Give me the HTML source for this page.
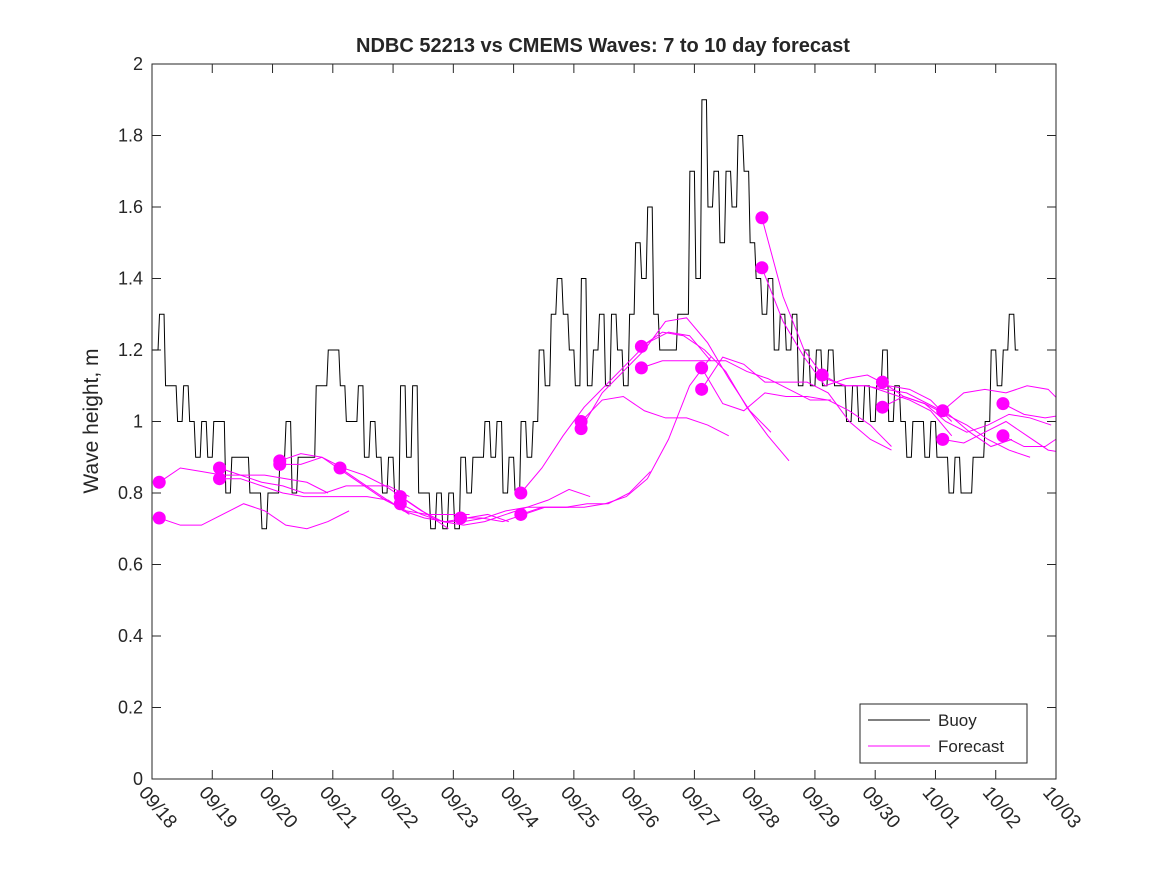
<!DOCTYPE html>
<html><head><meta charset="utf-8"><style>
body{margin:0;background:#fff;}
svg text{font-family:"Liberation Sans","DejaVu Sans",sans-serif;fill:#262626;}
</style></head><body>
<svg id="chart" width="1167" height="875">
<defs><clipPath id="pc"><rect x="152" y="64" width="904" height="715"/></clipPath></defs>
<rect width="1167" height="875" fill="#fff"/>
<text x="603" y="52" text-anchor="middle" font-size="20" font-weight="bold">NDBC 52213 vs CMEMS Waves: 7 to 10 day forecast</text>
<text transform="translate(98,421) rotate(-90)" text-anchor="middle" font-size="21">Wave height, m</text>
<g id="axes"></g>
<g id="buoy" clip-path="url(#pc)"></g>
<g id="fc" clip-path="url(#pc)"></g>
<rect x="152" y="64" width="904" height="715" fill="none" stroke="#262626" stroke-width="1"/>
<g>
<rect x="860" y="704" width="167" height="59" fill="#fff" stroke="#262626"/>
<line x1="868" y1="720" x2="930" y2="720" stroke="#000"/>
<text x="938" y="726" font-size="17">Buoy</text>
<line x1="868" y1="746" x2="930" y2="746" stroke="#f0f"/>
<text x="938" y="752" font-size="17">Forecast</text>
</g>
</svg>
<script>
const xTickLabels=["09/18","09/19","09/20","09/21","09/22","09/23","09/24","09/25","09/26","09/27","09/28","09/29","09/30","10/01","10/02","10/03"];
const yTicks=[0,0.2,0.4,0.6,0.8,1,1.2,1.4,1.6,1.8,2];
const buoyStep=0.1;
const buoyValues=[1.2,1.3,1.1,1.1,1.0,1.1,1.0,0.9,1.0,0.9,1.0,1.0,0.8,0.9,0.9,0.9,0.8,0.8,0.7,0.8,0.8,0.9,1.0,0.8,0.9,0.9,0.9,1.1,1.1,1.2,1.2,1.1,1.0,1.0,1.1,0.9,1.0,0.9,0.8,0.9,0.8,1.1,0.9,1.1,0.8,0.8,0.7,0.8,0.7,0.8,0.7,0.9,0.8,0.9,0.9,1.0,0.9,1.0,0.8,0.9,0.8,1.0,0.9,1.0,1.2,1.1,1.3,1.4,1.3,1.2,1.1,1.4,1.1,1.2,1.3,1.1,1.3,1.2,1.1,1.3,1.5,1.4,1.6,1.3,1.2,1.2,1.2,1.3,1.3,1.7,1.4,1.9,1.6,1.7,1.5,1.7,1.6,1.8,1.7,1.5,1.4,1.3,1.4,1.2,1.3,1.2,1.3,1.1,1.2,1.1,1.2,1.1,1.2,1.1,1.1,1.0,1.1,1.0,1.1,1.0,1.1,1.2,1.0,1.1,1.0,0.9,1.0,1.0,0.9,1.0,0.9,0.9,0.8,0.9,0.8,0.8,0.9,0.9,1.0,1.2,1.1,1.2,1.3,1.2];
const fcStep=0.35;
const fcStarts=[0.12,0.12,1.12,1.12,2.12,2.12,3.12,4.12,4.12,5.12,6.12,6.12,7.12,7.12,8.12,8.12,9.12,9.12,10.12,10.12,11.12,12.12,12.12,13.12,13.12,14.12,14.12];
const fcValues=[
[0.83,0.87,0.86,0.85,0.85,0.85,0.84,0.83,0.80],
[0.73,0.71,0.71,0.74,0.77,0.75,0.71,0.70,0.72,0.75],
[0.87,0.85,0.83,0.82,0.80,0.80,0.82,0.82,0.82,0.79],
[0.84,0.84,0.82,0.80,0.79,0.79,0.79,0.79,0.78,0.74],
[0.89,0.91,0.90,0.87,0.85,0.82,0.78,0.74,0.70],
[0.88,0.88,0.90,0.86,0.82,0.78,0.75,0.74,0.74,0.74],
[0.87,0.83,0.79,0.75,0.73,0.72,0.73,0.74,0.72],
[0.79,0.75,0.72,0.71,0.72,0.74,0.76,0.78,0.81,0.79],
[0.77,0.74,0.72,0.72,0.73,0.75,0.76,0.76,0.76],
[0.73,0.73,0.72,0.74,0.76,0.76,0.77,0.77,0.80,0.86],
[0.80,0.87,0.96,1.04,1.10,1.16,1.22,1.25,1.24,1.17],
[0.74,0.76,0.76,0.76,0.77,0.79,0.84,0.95,1.10,1.18],
[1.00,1.06,1.07,1.03,1.01,1.01,0.99,0.96],
[0.98,1.08,1.14,1.20,1.28,1.29,1.22,1.12,1.03,0.97],
[1.21,1.25,1.24,1.20,1.14,1.04,0.96,0.89],
[1.15,1.17,1.17,1.17,1.17,1.14,1.12,1.09,1.06,1.06],
[1.15,1.05,1.03,1.08,1.07,1.07,1.06,1.03,0.99,0.93],
[1.09,1.18,1.16,1.11,1.11,1.11,1.08,1.00,0.95,0.92],
[1.57,1.35,1.20,1.12,1.10,1.10,1.08,1.06,1.03,0.96],
[1.43,1.28,1.18,1.10,1.12,1.13,1.10,1.09,1.06,1.00],
[1.13,1.10,1.10,1.09,1.08,1.05,1.02,0.97,0.93,0.95],
[1.11,1.07,1.05,1.02,0.99,0.95,0.92,0.90],
[1.04,1.07,1.05,1.00,0.97,0.99,1.02,1.01,0.99],
[1.03,1.08,1.09,1.08,1.10,1.09,1.03,1.02],
[0.95,0.94,0.97,1.00,0.96,0.92,0.91,0.93,1.15],
[1.05,1.02,1.01,1.02],
[0.96,0.93,0.93,0.97]];
const NS="http://www.w3.org/2000/svg";
const X0=152,X1=1056,Y0=779,Y1=64;
function xs(d){return X0+(X1-X0)*d/15;}
function ys(v){return Y0-(Y0-Y1)*v/2;}
function mk(tag,attrs,parent){const e=document.createElementNS(NS,tag);for(const k in attrs)e.setAttribute(k,attrs[k]);parent.appendChild(e);return e;}
const axes=document.getElementById('axes');
yTicks.forEach(v=>{
  const y=ys(v);
  mk('line',{x1:X0,y1:y,x2:X0+9,y2:y,stroke:'#262626'},axes);
  mk('line',{x1:X1,y1:y,x2:X1-9,y2:y,stroke:'#262626'},axes);
  const t=mk('text',{x:X0-9,y:y+6,'text-anchor':'end','font-size':18},axes);
  t.textContent=String(v);
  
  
});
xTickLabels.forEach((lab,i)=>{
  const x=xs(i);
  mk('line',{x1:x,y1:Y0,x2:x,y2:Y0-9,stroke:'#262626'},axes);
  mk('line',{x1:x,y1:Y1,x2:x,y2:Y1+9,stroke:'#262626'},axes);
  const t=mk('text',{transform:`translate(${x-14},${Y0+14}) rotate(50)`,'font-size':19},axes);
  t.textContent=lab;
  
  
});
let d='';
buoyValues.forEach((v,i)=>{
  const x=xs(i*buoyStep),y=ys(v);
  if(i===0)d+=`M${x},${y}`;else d+=`L${x},${ys(buoyValues[i-1])}L${x+1.5},${y}`;
  d+=`L${xs((i+1)*buoyStep)-1.5},${y}`;
});
const bp=mk('path',{d:d,fill:'none',stroke:'#000','stroke-width':1},document.getElementById('buoy'));


const fc=document.getElementById('fc');
fcValues.forEach((vals,j)=>{
  const s=fcStarts[j];
  const pts=vals.map((v,i)=>`${xs(s+i*fcStep)},${ys(v)}`).join(' ');
  const pl=mk('polyline',{points:pts,fill:'none',stroke:'#f0f','stroke-width':1},fc);
  
  
});
fcValues.forEach((vals,j)=>{
  const c=mk('circle',{cx:xs(fcStarts[j]),cy:ys(vals[0]),r:6.5,fill:'#f0f'},fc);
  
  
});
</script>
</body></html>
